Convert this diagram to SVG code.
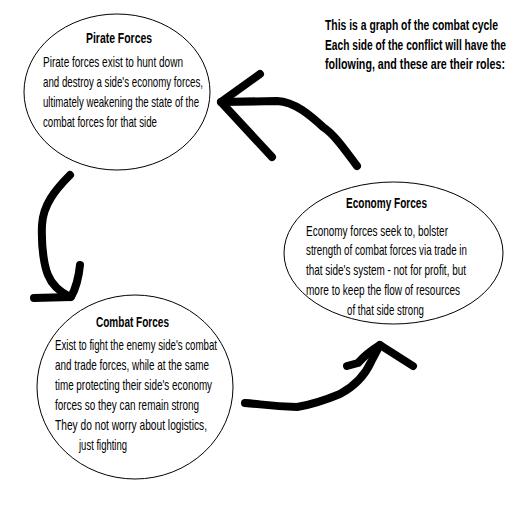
<svg xmlns="http://www.w3.org/2000/svg" width="512" height="512" viewBox="0 0 512 512">
<style>
.node ellipse{fill:#fff;stroke:#000;stroke-width:1}
.t{font-family:"Liberation Sans",Arial,sans-serif;font-size:14px;fill:#000}
.h{font-family:"Liberation Sans",Arial,sans-serif;font-size:15px;font-weight:bold;fill:#000}
.arr{fill:none;stroke:#000;stroke-width:8;stroke-linecap:round;stroke-linejoin:round}
</style>
<rect width="512" height="512" fill="#fff"/>
<g id="note">
<text class="h" transform="translate(325,30) scale(0.69,1)" textLength="250.7" lengthAdjust="spacingAndGlyphs">This is a graph of the combat cycle</text>
<text class="h" transform="translate(325,50) scale(0.69,1)" textLength="262.3" lengthAdjust="spacingAndGlyphs">Each side of the conflict will have the</text>
<text class="h" transform="translate(325,69) scale(0.69,1)" textLength="260.9" lengthAdjust="spacingAndGlyphs">following, and these are their roles:</text>
</g>
<g id="pirate" class="node">
<ellipse cx="117" cy="92" rx="93" ry="78"/>
<text class="h" transform="translate(86,43) scale(0.72,1)" textLength="91.7" lengthAdjust="spacingAndGlyphs">Pirate Forces</text>
<text class="t" transform="translate(43,67) scale(0.72,1)" textLength="194.4" lengthAdjust="spacingAndGlyphs">Pirate forces exist to hunt down</text>
<text class="t" transform="translate(43,87) scale(0.72,1)" textLength="222.2" lengthAdjust="spacingAndGlyphs">and destroy a side's economy forces,</text>
<text class="t" transform="translate(43,107) scale(0.72,1)" textLength="216.7" lengthAdjust="spacingAndGlyphs">ultimately weakening the state of the</text>
<text class="t" transform="translate(43,127) scale(0.72,1)" textLength="158.3" lengthAdjust="spacingAndGlyphs">combat forces for that side</text>
</g>
<g id="economy" class="node">
<ellipse cx="393.5" cy="253" rx="109.5" ry="71"/>
<text class="h" transform="translate(346,208) scale(0.72,1)" textLength="112.5" lengthAdjust="spacingAndGlyphs">Economy Forces</text>
<text class="t" transform="translate(306,236) scale(0.72,1)" textLength="197.2" lengthAdjust="spacingAndGlyphs">Economy forces seek to, bolster</text>
<text class="t" transform="translate(306,255) scale(0.72,1)" textLength="223.6" lengthAdjust="spacingAndGlyphs">strength of combat forces via trade in</text>
<text class="t" transform="translate(306,275) scale(0.72,1)" textLength="222.2" lengthAdjust="spacingAndGlyphs">that side's system - not for profit, but</text>
<text class="t" transform="translate(306,295) scale(0.72,1)" textLength="213.9" lengthAdjust="spacingAndGlyphs">more to keep the flow of resources</text>
<text class="t" transform="translate(347,315) scale(0.72,1)" textLength="106.9" lengthAdjust="spacingAndGlyphs">of that side strong</text>
</g>
<g id="combat" class="node">
<ellipse cx="135" cy="387" rx="98" ry="92"/>
<text class="h" transform="translate(96,327) scale(0.72,1)" textLength="101.4" lengthAdjust="spacingAndGlyphs">Combat Forces</text>
<text class="t" transform="translate(55,350) scale(0.72,1)" textLength="225" lengthAdjust="spacingAndGlyphs">Exist to fight the enemy side's combat</text>
<text class="t" transform="translate(55,370) scale(0.72,1)" textLength="213.9" lengthAdjust="spacingAndGlyphs">and trade forces, while at the same</text>
<text class="t" transform="translate(55,390) scale(0.72,1)" textLength="218.1" lengthAdjust="spacingAndGlyphs">time protecting their side's economy</text>
<text class="t" transform="translate(55,410) scale(0.72,1)" textLength="200" lengthAdjust="spacingAndGlyphs">forces so they can remain strong</text>
<text class="t" transform="translate(55,430) scale(0.72,1)" textLength="211.1" lengthAdjust="spacingAndGlyphs">They do not worry about logistics,</text>
<text class="t" transform="translate(79,450) scale(0.72,1)" textLength="66.7" lengthAdjust="spacingAndGlyphs">just fighting</text>
</g>
<g id="connectors">
<path class="arr" d="M357,166 C345,150 335,135 323,127 C310,115 295,102 277,101 L221,102"/>
<path class="arr" d="M260,74 L221,102 L272,157"/>
<path class="arr" d="M70,175 C55,190 43,205 42,225 C41,250 45,268 48,275 C52,285 60,292 70,297"/>
<path class="arr" d="M80,265 C79,275 76,288 71,297 L34,298"/>
<path class="arr" d="M245,403 C260,404 270,406 297,407 C310,405 323,401 340,394 C355,386 365,375 371,362 L380,345"/>
<path class="arr" d="M347,366 L358,363 C365,355 372,350 380,345 L413,366"/>
</g>
</svg>
